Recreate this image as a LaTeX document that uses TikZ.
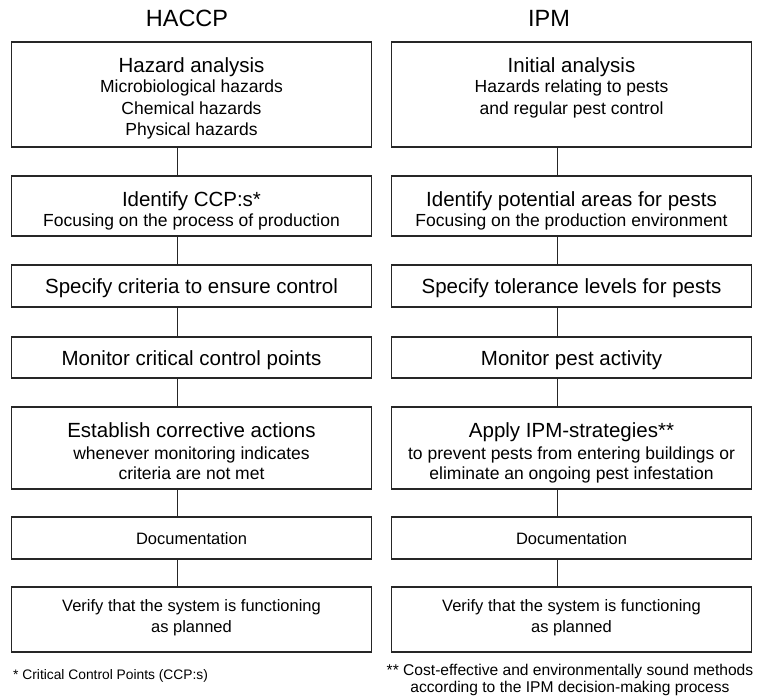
\documentclass[tikz,border=0pt]{standalone}
\usepackage{fontspec}
\setmainfont{Liberation Sans}
\begin{document}
\begin{tikzpicture}[x=1pt,y=-1pt,
  box/.style={draw=black!85, line width=1.3pt, minimum width=360pt, inner sep=0pt},
  conn/.style={draw=black!85, line width=1pt},
  ttl/.style={font=\fontsize{23.5}{25}\selectfont, anchor=base, inner sep=0pt},
  big/.style={font=\fontsize{20.5}{22}\selectfont, anchor=base, inner sep=0pt},
  small/.style={font=\fontsize{17.5}{19}\selectfont, anchor=base, inner sep=0pt},
  mid/.style={font=\fontsize{16.5}{18}\selectfont, anchor=base, inner sep=0pt},
  noteL/.style={font=\fontsize{13.8}{16}\selectfont, anchor=base west, inner sep=0pt},
  noteR/.style={font=\fontsize{15.6}{17}\selectfont, anchor=base, inner sep=0pt}]
\useasboundingbox (0,0) rectangle (757,699);
% titles
\node[ttl] (tL) at (187,26) {HACCP};
\node[ttl] (tR) at (549,26) {IPM};
% boxes
\foreach \c/\x in {L/191.5,R/571.5}{
  \node[box, minimum height=105pt] (\c1) at (\x,94.5) {};
  \node[box, minimum height=60pt] (\c2) at (\x,206) {};
  \node[box, minimum height=42pt] (\c3) at (\x,286) {};
  \node[box, minimum height=41pt] (\c4) at (\x,357.5) {};
  \node[box, minimum height=82pt] (\c5) at (\x,448) {};
  \node[box, minimum height=42pt] (\c6) at (\x,538) {};
  \node[box, minimum height=65pt] (\c7) at (\x,619.5) {};
}
% connectors
\foreach \c in {L,R}{
  \foreach \a/\b in {1/2,2/3,3/4,4/5,5/6,6/7}{
    \draw[conn] ([xshift=-14pt]\c\a.south) -- ([xshift=-14pt]\c\b.north);
  }
}
% left texts
\node[big] (L1a) at (191.5,72) {Hazard analysis};
\node[small] (L1b) at (191.5,92.5) {Microbiological hazards};
\node[small] (L1c) at (191.5,114) {Chemical hazards};
\node[small] (L1d) at (191.5,135.5) {Physical hazards};
\node[big] (L2a) at (191.5,206) {Identify CCP:s*};
\node[small] (L2b) at (191.5,226.5) {Focusing on the process of production};
\node[big] (L3a) at (191.5,293.5) {Specify criteria to ensure control};
\node[big] (L4a) at (191.5,365) {Monitor critical control points};
\node[big] (L5a) at (191.5,437) {Establish corrective actions};
\node[small] (L5b) at (191.5,459) {whenever monitoring indicates};
\node[small] (L5c) at (191.5,479.5) {criteria are not met};
\node[mid] (L6a) at (191.5,544) {Documentation};
\node[mid] (L7a) at (191.5,611) {Verify that the system is functioning};
\node[mid] (L7b) at (191.5,632) {as planned};
% right texts
\node[big] (R1a) at (571.5,72) {Initial analysis};
\node[small] (R1b) at (571.5,92.5) {Hazards relating to pests};
\node[small] (R1c) at (571.5,114) {and regular pest control};
\node[big] (R2a) at (571.5,206) {Identify potential areas for pests};
\node[small] (R2b) at (571.5,226.5) {Focusing on the production environment};
\node[big] (R3a) at (571.5,293.5) {Specify tolerance levels for pests};
\node[big] (R4a) at (571.5,365) {Monitor pest activity};
\node[big] (R5a) at (571.5,437) {Apply IPM-strategies**};
\node[small] (R5b) at (571.5,459) {to prevent pests from entering buildings or};
\node[small] (R5c) at (571.5,479.5) {eliminate an ongoing pest infestation};
\node[mid] (R6a) at (571.5,544) {Documentation};
\node[mid] (R7a) at (571.5,611) {Verify that the system is functioning};
\node[mid] (R7b) at (571.5,632) {as planned};
% footnotes
\node[noteL] (fL) at (13,679) {* Critical Control Points (CCP:s)};
\node[noteR] (fR1) at (570,675) {** Cost-effective and environmentally sound methods};
\node[noteR] (fR2) at (570,692) {according to the IPM decision-making process};
\end{tikzpicture}
\end{document}
